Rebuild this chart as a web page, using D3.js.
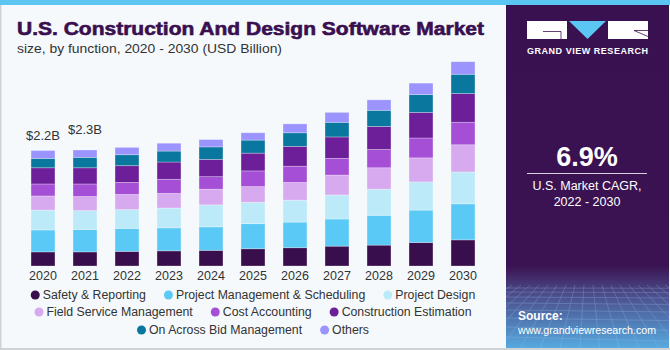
<!DOCTYPE html>
<html>
<head>
<meta charset="utf-8">
<script src="https://cdn.jsdelivr.net/npm/d3@7"></script>
<style>
  body { margin: 0; background: #f5f9fc; }
  svg text { font-family: "Liberation Sans", Arial, sans-serif; }
</style>
</head>
<body>
<div id="chart"></div>
<script>
const years = ["2020","2021","2022","2023","2024","2025","2026","2027","2028","2029","2030"]
const seriesNames = ["Safety & Reporting","Project Management & Scheduling","Project Design",
  "Field Service Management","Cost Accounting","Construction Estimation",
  "On Across Bid Management","Others"]
const seriesColors = ["#380f4c","#5bc9f6","#bdeaf9","#d7a9ee","#a54fd6","#6c1f99","#0a779e","#9b94fe"]

const safety     = [0.27,0.27,0.28,0.29,0.30,0.33,0.35,0.38,0.40,0.45,0.50]
const projMgmt   = [0.42,0.43,0.44,0.44,0.45,0.48,0.49,0.52,0.57,0.62,0.69]
const projDesign = [0.38,0.36,0.36,0.38,0.42,0.41,0.42,0.46,0.50,0.54,0.61]
const fieldSvc   = [0.27,0.27,0.29,0.28,0.30,0.30,0.34,0.38,0.41,0.46,0.52]
const costAcc    = [0.23,0.24,0.23,0.27,0.24,0.30,0.31,0.32,0.35,0.38,0.43]
const estimation = [0.31,0.31,0.32,0.33,0.33,0.34,0.38,0.41,0.44,0.49,0.55]
const bidMgmt    = [0.18,0.20,0.21,0.21,0.24,0.25,0.26,0.28,0.31,0.34,0.37]
const others     = [0.15,0.14,0.14,0.15,0.14,0.14,0.17,0.19,0.20,0.22,0.24]

const totalLabels = ["$2.2B","$2.3B"]
const legendRows = [[0,1,2],[3,4,5],[6,7]]

const canvas = { width: 670, height: 350, plotLeft: 22, plotRight: 484, base: 266, top: 57 }

const svg = d3.select("#chart").append("svg")
  .attr("width", canvas.width).attr("height", canvas.height)

drawFrame(svg)
drawPanel(svg)
drawBars(svg)
drawLegend(svg)

function drawFrame(svg){
  svg.append("rect").attr("width", canvas.width).attr("height", canvas.height).attr("fill", "#f5f9fc")
  svg.append("rect").attr("x", 0).attr("y", 0).attr("width", 1.5).attr("height", canvas.height).attr("fill", "#cfd3d6")
  svg.append("rect").attr("x", 0).attr("y", canvas.height - 2).attr("width", canvas.width).attr("height", 2).attr("fill", "#cfd3d6")
  svg.append("rect").attr("width", canvas.width).attr("height", 5).attr("fill", "#5cc6f2")

  svg.append("text").attr("x", 17).attr("y", 35)
    .attr("font-size", 18).attr("font-weight", "bold").attr("fill", "#3a0f4f")
    .attr("stroke", "#3a0f4f").attr("stroke-width", 0.6)
    .attr("textLength", 467).attr("lengthAdjust", "spacingAndGlyphs")
    .text("U.S. Construction And Design Software Market")
  svg.append("text").attr("x", 17).attr("y", 53)
    .attr("font-size", 13).attr("fill", "#333")
    .attr("textLength", 265).attr("lengthAdjust", "spacingAndGlyphs")
    .text("size, by function, 2020 - 2030 (USD Billion)")
}

function drawPanel(svg){
  const defs = svg.append("defs")
  const grad = defs.append("linearGradient").attr("id", "pg").attr("x1", 0).attr("y1", 0).attr("x2", 0).attr("y2", 1)
  grad.append("stop").attr("offset", "0%").attr("stop-color", "#3a1150")
  grad.append("stop").attr("offset", "76%").attr("stop-color", "#3b1352")
  grad.append("stop").attr("offset", "84%").attr("stop-color", "#4b4a88")
  grad.append("stop").attr("offset", "100%").attr("stop-color", "#56a9df")

  const px = 506, pw = 163
  svg.append("rect").attr("x", px).attr("y", 5).attr("width", pw).attr("height", canvas.height - 7).attr("fill", "url(#pg)")

  // perspective grid at the bottom of the panel
  const grid = svg.append("g").attr("stroke", "#9fc3ee").attr("stroke-width", 0.6).attr("opacity", 0.45)
  const rows = [288, 292, 297, 303, 310, 318, 327, 337, 348]
  rows.forEach(y => grid.append("line").attr("x1", px).attr("x2", px + pw).attr("y1", y).attr("y2", y + (y - 285) * 0.08))
  d3.range(-8, 18).forEach(i => {
    const x0 = px + 15 + i * 9
    grid.append("line").attr("x1", x0).attr("y1", 285).attr("x2", px + pw / 2 + (x0 - px - pw / 2) * 2.2).attr("y2", 348)
  })
  svg.append("clipPath").attr("id", "pc").append("rect").attr("x", px).attr("y", 5).attr("width", pw).attr("height", canvas.height - 7)
  grid.attr("clip-path", "url(#pc)")

  // logo
  const logo = svg.append("g")
  logo.append("rect").attr("x", 527).attr("y", 21).attr("width", 40).attr("height", 18).attr("fill", "#fff")
  logo.append("path").attr("d", "M543,31.5H561V39").attr("fill", "none").attr("stroke", "#3a1150").attr("stroke-width", 0.8)
  logo.append("path").attr("d", "M569,21H606L587.5,39Z").attr("fill", "#5cc6f2")
  logo.append("rect").attr("x", 608).attr("y", 21).attr("width", 40).attr("height", 18).attr("fill", "#fff")
  logo.append("path").attr("d", "M634,30.5L648,36.5M634,30.5H648").attr("fill", "none").attr("stroke", "#3a1150").attr("stroke-width", 0.8)
  svg.append("text").attr("x", 527).attr("y", 54).attr("font-size", 9).attr("font-weight", "bold")
    .attr("fill", "#fff").attr("textLength", 121).attr("lengthAdjust", "spacing")
    .text("GRAND VIEW RESEARCH")

  const cx = 587
  svg.append("text").attr("x", cx).attr("y", 166).attr("text-anchor", "middle")
    .attr("font-size", 27).attr("font-weight", "bold").attr("fill", "#fff").text("6.9%")
  svg.append("line").attr("x1", 527).attr("x2", 647).attr("y1", 173.5).attr("y2", 173.5)
    .attr("stroke", "#d8cfe0").attr("stroke-width", 1)
  svg.append("text").attr("x", cx).attr("y", 190).attr("text-anchor", "middle")
    .attr("font-size", 12.5).attr("fill", "#fff").text("U.S. Market CAGR,")
  svg.append("text").attr("x", cx).attr("y", 206).attr("text-anchor", "middle")
    .attr("font-size", 12.5).attr("fill", "#fff").text("2022 - 2030")

  svg.append("text").attr("x", 518).attr("y", 320).attr("font-size", 12).attr("font-weight", "bold")
    .attr("fill", "#fff").text("Source:")
  svg.append("text").attr("x", 518).attr("y", 334).attr("font-size", 11)
    .attr("fill", "#fff").attr("textLength", 138).attr("lengthAdjust", "spacingAndGlyphs")
    .text("www.grandviewresearch.com")
}

function drawBars(svg){
  const series = [safety, projMgmt, projDesign, fieldSvc, costAcc, estimation, bidMgmt, others]
  const table = years.map((y, i) => {
    const row = { year: y }
    seriesNames.forEach((n, k) => row[n] = series[k][i])
    return row
  })
  const stacked = d3.stack().keys(seriesNames)(table)

  const xScale = d3.scaleBand().domain(years)
    .range([canvas.plotLeft, canvas.plotRight]).paddingInner(0.43).paddingOuter(0.215)
  const yScale = d3.scaleLinear().domain([0, 4]).range([canvas.base, canvas.top])

  svg.append("g").selectAll("g").data(stacked).join("g")
    .attr("fill", (d, i) => seriesColors[i])
    .selectAll("rect").data(d => d).join("rect")
    .attr("x", d => xScale(d.data.year))
    .attr("width", xScale.bandwidth())
    .attr("y", d => yScale(d[1]))
    .attr("height", d => yScale(d[0]) - yScale(d[1]))
    .attr("stroke", "#ffffff").attr("stroke-opacity", 0.35).attr("stroke-width", 0.8)

  const totals = table.map(d => d3.sum(seriesNames, n => d[n]))
  svg.append("g").selectAll("text").data(totalLabels).join("text")
    .attr("x", (d, i) => xScale(years[i]) + xScale.bandwidth() / 2)
    .attr("y", (d, i) => yScale(totals[i]) - (i === 0 ? 11 : 16))
    .attr("text-anchor", "middle").attr("font-size", 13).attr("fill", "#333")
    .text(d => d)

  const axis = svg.append("g").attr("transform", `translate(0,${canvas.base})`)
    .call(d3.axisBottom(xScale).tickSize(0).tickPadding(5))
  axis.select(".domain").remove()
  axis.selectAll("text").attr("font-size", 12.5).attr("fill", "#333")
    .attr("font-family", "Liberation Sans, Arial, sans-serif")
}

function drawLegend(svg){
  const rowY = [295, 312, 330]
  const gap = 20, dotGap = 10
  const g = svg.append("g").attr("font-size", 12.3).attr("fill", "#333")
  legendRows.forEach((row, r) => {
    const items = row.map(k => {
      const t = g.append("text").attr("y", rowY[r]).attr("dy", "0.35em").text(seriesNames[k])
      return { k, t, w: t.node().getComputedTextLength() }
    })
    const total = d3.sum(items, d => d.w + dotGap) + gap * (items.length - 1)
    let x = 252 - total / 2
    items.forEach(d => {
      g.append("circle").attr("cx", x + 4.5).attr("cy", rowY[r]).attr("r", 4.5).attr("fill", seriesColors[d.k])
      d.t.attr("x", x + dotGap + 2)
      x += d.w + dotGap + gap
    })
  })
}
</script>
</body>
</html>
